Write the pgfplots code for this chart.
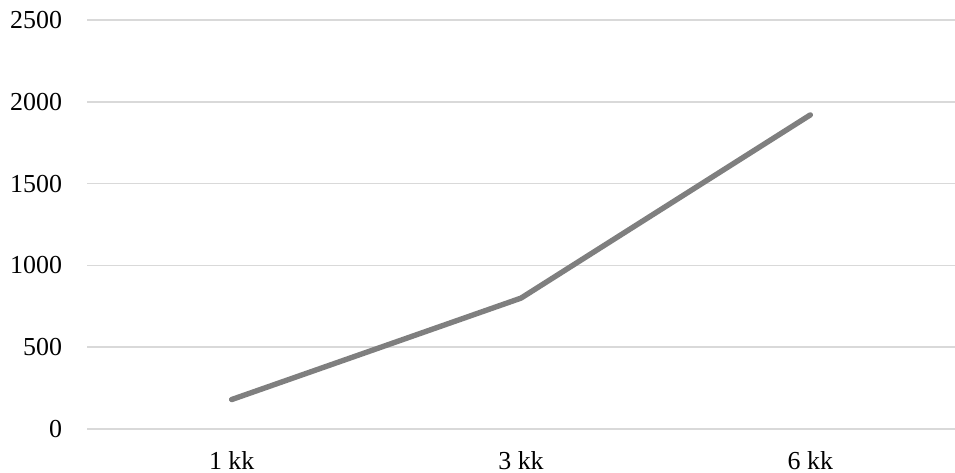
\documentclass[border=0pt]{standalone}
\usepackage{fontspec}
\setmainfont{Liberation Serif}
\usepackage{pgfplots}
\pgfplotsset{compat=1.18}
\definecolor{linegray}{HTML}{7F7F7F}
\definecolor{gridgray}{HTML}{D9D9D9}
\begin{document}
\begin{tikzpicture}
\useasboundingbox (0,0) rectangle (477.5bp,236.5bp);
\begin{axis}[
    at={(43.5bp,22bp)}, anchor=south west,
    scale only axis,
    width=434bp, height=204.5bp,
    xmin=-0.5, xmax=2.5,
    ymin=0, ymax=2500,
    xtick={0,1,2},
    xticklabels={1 kk, 3 kk, 6 kk},
    ytick={0,500,1000,1500,2000,2500},
    axis x line*=bottom,
    axis y line*=left,
    x axis line style={gridgray, line width=0.75bp, -},
    y axis line style={draw=none},
    ymajorgrids=true,
    grid style={gridgray, line width=0.75bp},
    major tick length=0pt,
    tick label style={font=\fontsize{13}{15}\selectfont},
    /pgf/number format/assume math mode=true,
    /pgf/number format/1000 sep={},
    yticklabel style={anchor=east, xshift=-9bp},
    xticklabel style={anchor=north, yshift=-7.5bp},
]
\addplot[color=linegray, line width=2.7bp, line cap=round, line join=round]
coordinates {
    (0, 180)
    (1, 800)
    (2, 1920)
};
\end{axis}
\end{tikzpicture}
\end{document}
